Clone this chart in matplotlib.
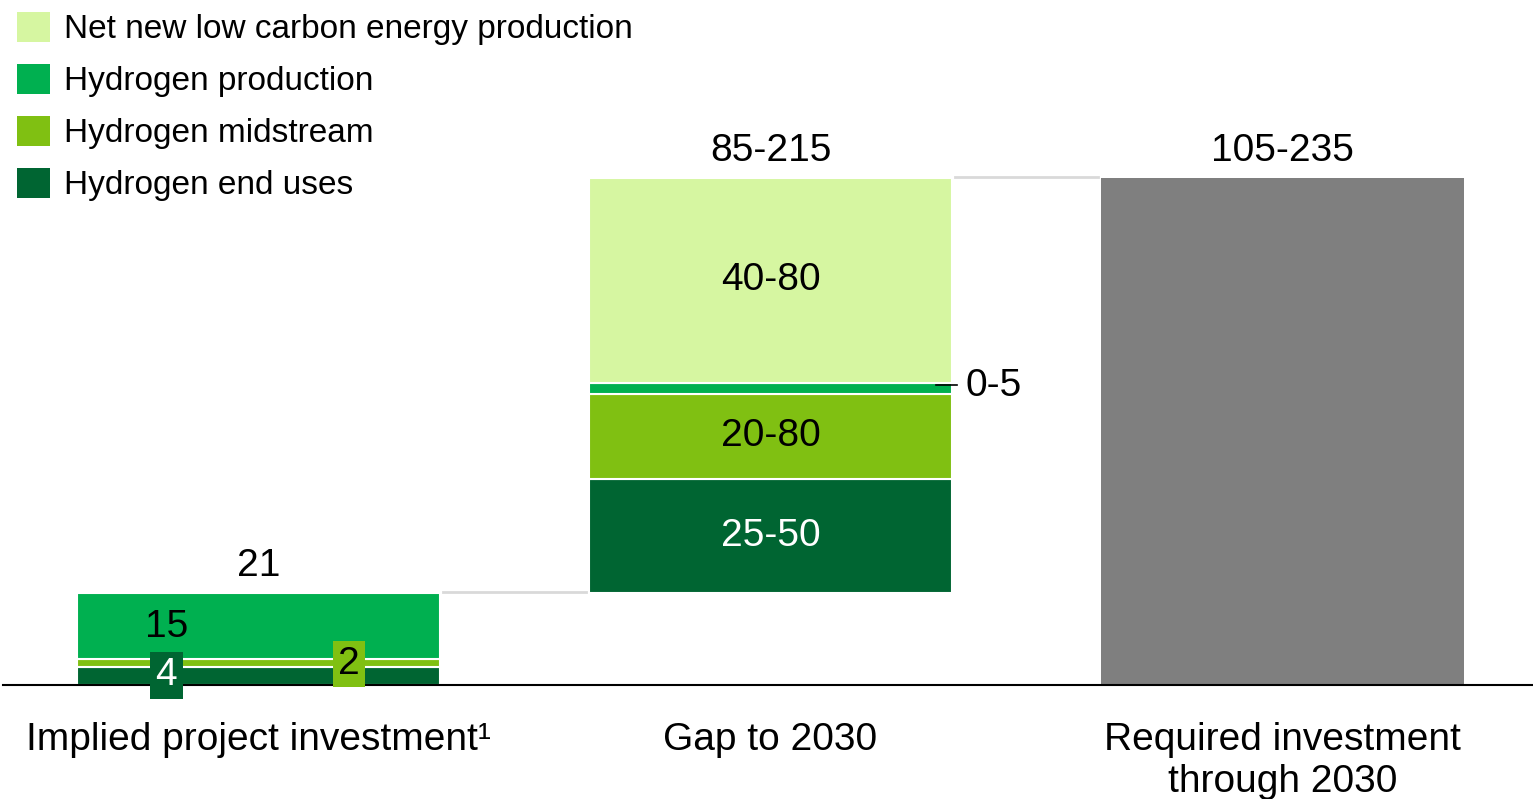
import numpy as np
import matplotlib.pyplot as plt
from matplotlib.patches import Patch

plt.rcParams['font.family'] = ['Liberation Sans', 'DejaVu Sans']

# categories on the x axis
categories = ['Implied project investment\u00b9', 'Gap to 2030', 'Required investment\nthrough 2030']
segments = ['Hydrogen end uses', 'Hydrogen midstream', 'Hydrogen production', 'Net new low carbon energy production']
colors = ['#006532', '#80C012', '#00B050', '#D6F6A1']

# bar 1: implied project investment
implied_vals = [4, 2, 15]
# bar 2: gap (drawn heights, labelled with ranges)
gap_vals = [26, 19.5, 2.5, 46.7]
gap_labels = ['25-50', '20-80', '0-5', '40-80']
# totals
total_labels = ['21', '85-215', '105-235']
required_val = sum(implied_vals) + sum(gap_vals)

fig = plt.figure(figsize=(15.33, 7.99), dpi=100)
scale = 4.381  # px per unit
ax = fig.add_axes([3 / 1533, 114 / 799, 1 - 3 / 1533, 685 / 799])
ax.set_xlim((3 - 258.5) / 512, (1533 - 258.5) / 512)
ax.set_ylim(0, 685 / scale)

w = 0.709
x = np.arange(3)

# bar 1
bottom = 0
for v, c in zip(implied_vals, colors):
    ax.bar(x[0], v, w, bottom=bottom, color=c, edgecolor='white', linewidth=1.5)
    bottom += v
t1 = bottom

# bar 2
bottom = t1
for v, c in zip(gap_vals, colors):
    ax.bar(x[1], v, w, bottom=bottom, color=c, edgecolor='white', linewidth=1.5)
    bottom += v
t2 = bottom

# bar 3
ax.bar(x[2], required_val, w, color='#7F7F7F', edgecolor='none')

# connectors
ax.plot([x[0] + w / 2 + 0.005, x[1] - w / 2 - 0.005], [t1 + 0.2, t1 + 0.2], color='#D9D9D9', lw=2)
ax.plot([x[1] + w / 2 + 0.005, x[2] - w / 2 - 0.005], [t2 + 0.2, t2 + 0.2], color='#D9D9D9', lw=2)

fs = 28
# totals
for xi, top, lab in zip(x, [t1, t2, required_val], total_labels):
    ax.text(xi, top + 6.2, lab, ha='center', va='center', fontsize=fs)

# bar 1 segment labels
ax.text(x[0] - 0.179, 13.2, str(implied_vals[2]), ha='center', va='center', fontsize=fs)
ax.text(x[0] - 0.18, 2.2, str(implied_vals[0]), ha='center', va='center', fontsize=fs, color='white',
        bbox=dict(boxstyle='square,pad=0.14', facecolor=colors[0], edgecolor='none'))
ax.text(x[0] + 0.177, 4.8, str(implied_vals[1]), ha='center', va='center', fontsize=fs, color='black',
        bbox=dict(boxstyle='square,pad=0.14', facecolor=colors[1], edgecolor='none'))

# bar 2 segment labels
bottom = t1
for i, (v, lab) in enumerate(zip(gap_vals, gap_labels)):
    mid = bottom + v / 2
    if i == 2:
        ax.plot([x[1] + 0.323, x[1] + 0.364], [mid + 0.8, mid + 0.8], color='black', lw=1.2)
        ax.text(x[1] + 0.380, mid + 0.4, lab, ha='left', va='center', fontsize=fs)
    else:
        ax.text(x[1], mid, lab, ha='center', va='center', fontsize=fs,
                color='white' if i == 0 else 'black')
    bottom += v

for s in ['top', 'right', 'left']:
    ax.spines[s].set_visible(False)
ax.spines['bottom'].set_color('black')
ax.spines['bottom'].set_linewidth(1.5)
ax.set_yticks([])
ax.set_xticks(x)
ax.set_xticklabels(categories, fontsize=fs, linespacing=1.2)
ax.tick_params(axis='x', length=0, pad=27)

handles = [Patch(facecolor=colors[i], edgecolor='none', label=segments[i]) for i in [3, 2, 1, 0]]
fig.legend(handles=handles, loc='upper left', bbox_to_anchor=(17 / 1533, 1 - 12 / 799),
           frameon=False, fontsize=24, handlelength=1.0, handleheight=1.0,
           handletextpad=0.42, labelspacing=0.56, borderaxespad=0, borderpad=0)

fig.savefig('out.png', dpi=100)
